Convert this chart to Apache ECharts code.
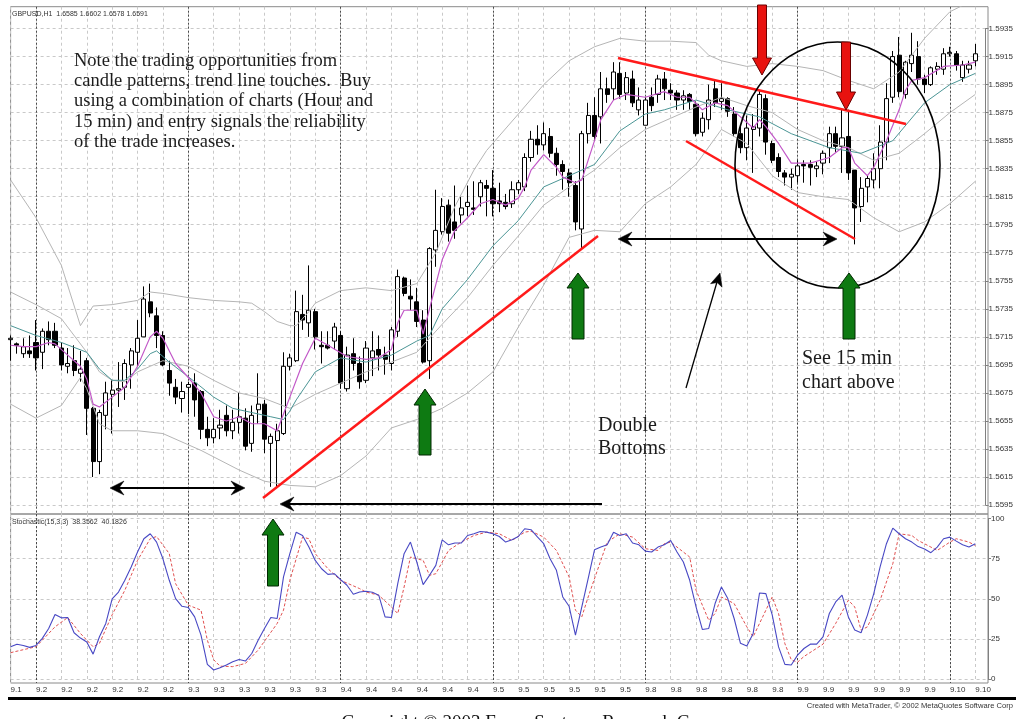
<!DOCTYPE html>
<html><head><meta charset="utf-8">
<script src="https://cdn.jsdelivr.net/npm/echarts@6/dist/echarts.min.js"></script>
<style>html,body{margin:0;padding:0;background:#fff;overflow:hidden}#c{width:1016px;height:719px}</style>
</head><body><div id="c"></div>
<script>
// ---------- categories (hourly bars, GBPUSD H1) ----------
const days = ['9.1','9.2','9.3','9.4','9.5','9.8','9.9','9.10'];
const slotsPerDay = [4,24,24,24,24,24,24,7];
const firstHour = 20;

// ---------- price axis ticks ----------
const priceTicks = [1.5595,1.5615,1.5635,1.5655,1.5675,1.5695,1.5715,1.5735,1.5755,1.5775,1.5795,1.5815,1.5835,1.5855,1.5875,1.5895,1.5915,1.5935];
const priceStep = 0.002;
const stochTicks = [0,25,50,75,100];

// ---------- candles ----------
const opens = [1.5713,1.5710,1.5703,1.5705,1.5711,1.5704,1.5719,1.5719,1.5707,1.5694,
1.5698,1.5689,1.5698,1.5664,1.5626,1.5659,1.5674,1.5677,1.5679,1.5695,
1.5704,1.5715,1.5740,1.5730,1.5716,1.5691,1.5679,1.5671,1.5679,1.5682,
1.5676,1.5649,1.5643,1.5650,1.5659,1.5648,1.5654,1.5657,1.5639,1.5663,
1.5667,1.5639,1.5641,1.5646,1.5694,1.5698,1.5731,1.5725,1.5733,1.5709,
1.5709,1.5712,1.5716,1.5678,1.5703,1.5696,1.5684,1.5700,1.5706,1.5702,
1.5696,1.5719,1.5757,1.5744,1.5740,1.5727,1.5698,1.5777,1.5790,1.5809,
1.5797,1.5802,1.5808,1.5807,1.5815,1.5823,1.5821,1.5812,1.5811,1.5810,
1.5820,1.5822,1.5843,1.5856,1.5852,1.5858,1.5846,1.5838,1.5832,1.5823,
1.5792,1.5860,1.5873,1.5872,1.5892,1.5892,1.5903,1.5889,1.5899,1.5877,
1.5866,1.5886,1.5888,1.5899,1.5891,1.5889,1.5884,1.5888,1.5881,1.5861,
1.5870,1.5892,1.5883,1.5885,1.5874,1.5860,1.5850,1.5863,1.5864,1.5885,
1.5853,1.5843,1.5832,1.5829,1.5830,1.5838,1.5838,1.5835,1.5839,1.5850,
1.5860,1.5851,1.5858,1.5834,1.5808,1.5822,1.5827,1.5835,1.5854,1.5886,
1.5916,1.5888,1.5910,1.5915,1.5899,1.5895,1.5906,1.5906,1.5917,1.5917,
1.5900,1.5906,1.5912];
const closes = [1.5714,1.5709,1.5708,1.5703,1.5700,1.5719,1.5713,1.5709,1.5695,1.5696,
1.5691,1.5692,1.5664,1.5626,1.5661,1.5675,1.5677,1.5678,1.5696,1.5705,
1.5714,1.5742,1.5732,1.5716,1.5695,1.5682,1.5672,1.5676,1.5681,1.5670,
1.5649,1.5643,1.5649,1.5652,1.5648,1.5654,1.5658,1.5637,1.5659,1.5667,
1.5642,1.5644,1.5648,1.5694,1.5700,1.5733,1.5727,1.5734,1.5715,1.5708,
1.5707,1.5722,1.5682,1.5702,1.5696,1.5683,1.5707,1.5705,1.5702,1.5699,
1.5720,1.5758,1.5746,1.5742,1.5726,1.5697,1.5778,1.5791,1.5808,1.5789,
1.5791,1.5807,1.5811,1.5806,1.5825,1.5821,1.5810,1.5810,1.5808,1.5820,
1.5825,1.5843,1.5856,1.5852,1.5860,1.5846,1.5838,1.5833,1.5825,1.5797,
1.5860,1.5873,1.5858,1.5892,1.5888,1.5904,1.5888,1.5900,1.5882,1.5884,
1.5884,1.5880,1.5899,1.5892,1.5889,1.5884,1.5887,1.5883,1.5860,1.5871,
1.5884,1.5882,1.5885,1.5876,1.5860,1.5850,1.5864,1.5865,1.5888,1.5854,
1.5841,1.5833,1.5829,1.5831,1.5837,1.5837,1.5836,1.5837,1.5846,1.5860,
1.5851,1.5857,1.5832,1.5807,1.5821,1.5828,1.5835,1.5854,1.5885,1.5915,
1.5890,1.5911,1.5916,1.5899,1.5895,1.5907,1.5908,1.5917,1.5918,1.5909,
1.5909,1.5909,1.5917];
const lows = [1.5698,1.5703,1.5700,1.5700,1.5691,1.5692,1.5709,1.5707,1.5691,1.5689,
1.5687,1.5683,1.5645,1.5615,1.5617,1.5649,1.5646,1.5665,1.5670,1.5678,
1.5694,1.5715,1.5729,1.5707,1.5694,1.5673,1.5667,1.5661,1.5660,1.5658,
1.5642,1.5637,1.5639,1.5642,1.5644,1.5642,1.5646,1.5634,1.5633,1.5653,
1.5632,1.5608,1.5607,1.5645,1.5691,1.5697,1.5720,1.5715,1.5706,1.5696,
1.5706,1.5706,1.5678,1.5676,1.5691,1.5678,1.5682,1.5687,1.5691,1.5688,
1.5691,1.5715,1.5744,1.5734,1.5722,1.5696,1.5685,1.5765,1.5788,1.5783,
1.5785,1.5796,1.5801,1.5802,1.5808,1.5801,1.5801,1.5804,1.5806,1.5807,
1.5817,1.5819,1.5840,1.5845,1.5848,1.5843,1.5830,1.5820,1.5815,1.5791,
1.5778,1.5853,1.5855,1.5853,1.5882,1.5884,1.5885,1.5884,1.5879,1.5873,
1.5866,1.5876,1.5882,1.5884,1.5884,1.5877,1.5877,1.5877,1.5858,1.5858,
1.5863,1.5879,1.5877,1.5872,1.5858,1.5846,1.5841,1.5832,1.5858,1.5845,
1.5839,1.5829,1.5823,1.5820,1.5825,1.5825,1.5823,1.5829,1.5831,1.5839,
1.5847,1.5832,1.5827,1.5781,1.5797,1.5811,1.5821,1.5821,1.5841,1.5882,
1.5886,1.5885,1.5904,1.5895,1.5889,1.5894,1.5902,1.5902,1.5915,1.5905,
1.5897,1.5903,1.5908];
const highs = [1.5716,1.5711,1.5714,1.5716,1.5727,1.5721,1.5726,1.5725,1.5711,1.5707,
1.5709,1.5705,1.5700,1.5665,1.5663,1.5683,1.5684,1.5697,1.5699,1.5707,
1.5727,1.5751,1.5753,1.5736,1.5719,1.5698,1.5685,1.5683,1.5683,1.5689,
1.5677,1.5658,1.5657,1.5663,1.5666,1.5663,1.5675,1.5664,1.5666,1.5689,
1.5670,1.5646,1.5653,1.5704,1.5703,1.5748,1.5745,1.5766,1.5735,1.5719,
1.5719,1.5725,1.5719,1.5708,1.5714,1.5701,1.5712,1.5719,1.5716,1.5708,
1.5722,1.5763,1.5758,1.5756,1.5750,1.5734,1.5779,1.5820,1.5814,1.5813,
1.5823,1.5815,1.5823,1.5826,1.5827,1.5827,1.5834,1.5825,1.5817,1.5826,
1.5827,1.5846,1.5862,1.5866,1.5868,1.5864,1.5850,1.5841,1.5835,1.5826,
1.5862,1.5882,1.5886,1.5904,1.5900,1.5911,1.5911,1.5904,1.5905,1.5893,
1.5886,1.5893,1.5902,1.5904,1.5896,1.5891,1.5891,1.5889,1.5883,1.5875,
1.5895,1.5898,1.5896,1.5886,1.5879,1.5865,1.5873,1.5874,1.5891,1.5888,
1.5855,1.5846,1.5834,1.5835,1.5841,1.5841,1.5841,1.5840,1.5848,1.5865,
1.5865,1.5877,1.5877,1.5834,1.5829,1.5830,1.5846,1.5866,1.5896,1.5919,
1.5929,1.5912,1.5932,1.5926,1.5902,1.5908,1.5911,1.5921,1.5922,1.5919,
1.5912,1.5912,1.5924];

// ---------- indicator lines, read at sample bars: [bar, price] ----------
const upperBand = [[0,1.5827],[4,1.5800],[8,1.5766],[11,1.5723],[13,1.5737],[16,1.5738],[20,1.5741],[22,1.5747],[24,1.5746],[28,1.5743],[32,1.5741],[36,1.5740],[38,1.5739],[40,1.5733],[42,1.5726],[44,1.5723],[45,1.5723],[47,1.5733],[48,1.5739],[52,1.5748],[56,1.5750],[60,1.5748],[64,1.5753],[67,1.5775],[70,1.5808],[73,1.5834],[75,1.5848],[80,1.5874],[84,1.5895],[88,1.5912],[92,1.5922],[96,1.5928],[100,1.5926],[104,1.5926],[108,1.5925],[110,1.5916],[112,1.5912],[116,1.5908],[120,1.5910],[124,1.5908],[128,1.5905],[132,1.5898],[136,1.5892],[140,1.5904],[144,1.5928],[148,1.5947],[152,1.5956]];
const middleBand = [[0,1.5747],[4,1.5738],[8,1.5728],[12,1.5704],[14,1.5690],[16,1.5684],[18,1.5683],[20,1.5690],[22,1.5694],[24,1.5698],[28,1.5694],[32,1.5684],[36,1.5675],[40,1.5671],[44,1.5664],[48,1.5674],[52,1.5682],[56,1.5690],[60,1.5697],[64,1.5704],[68,1.5724],[72,1.5743],[76,1.5766],[80,1.5787],[84,1.5809],[88,1.5822],[92,1.5834],[96,1.5850],[100,1.5863],[104,1.5871],[108,1.5879],[112,1.5886],[116,1.5880],[120,1.5875],[124,1.5863],[128,1.5855],[132,1.5850],[136,1.5841],[140,1.5846],[144,1.5860],[148,1.5875],[152,1.5888]];
const lowerBand = [[0,1.5667],[4,1.5657],[8,1.5666],[11,1.5686],[12,1.5678],[14,1.5653],[16,1.5648],[20,1.5648],[24,1.5646],[27,1.5640],[30,1.5634],[33,1.5627],[36,1.5620],[40,1.5612],[44,1.5609],[48,1.5608],[52,1.5616],[56,1.5630],[60,1.5650],[64,1.5656],[68,1.5664],[72,1.5675],[76,1.5690],[80,1.5722],[84,1.5752],[88,1.5786],[92,1.5791],[96,1.5790],[100,1.5810],[104,1.5822],[108,1.5838],[112,1.5863],[116,1.5853],[120,1.5830],[124,1.5818],[128,1.5815],[132,1.5813],[136,1.5800],[140,1.5790],[144,1.5797],[148,1.5810],[152,1.5826]];
const tealMA = [[0,1.5723],[4,1.5716],[8,1.5711],[12,1.5704],[14,1.5692],[16,1.5684],[18,1.5684],[20,1.5692],[22,1.5703],[23,1.5705],[25,1.5697],[27,1.5690],[29,1.5683],[32,1.5672],[35,1.5664],[38,1.5661],[41,1.5658],[43,1.5656],[44,1.5662],[45,1.5670],[48,1.5690],[52,1.5700],[56,1.5697],[60,1.5702],[64,1.5712],[66,1.5716],[68,1.5735],[72,1.5756],[76,1.5780],[80,1.5798],[84,1.5822],[88,1.5830],[92,1.5838],[96,1.5862],[100,1.5874],[103,1.5877],[108,1.5884],[113,1.5877],[118,1.5872],[123,1.5860],[129,1.5850],[134,1.5846],[139,1.5855],[144,1.5882],[148,1.5895],[152,1.5903]];
const fastMA = [[0,1.5709],[2,1.5708],[4,1.5708],[6,1.5711],[7,1.5710],[9,1.5702],[11,1.5694],[12,1.5685],[13,1.5667],[14,1.5665],[16,1.5672],[18,1.5679],[20,1.5694],[22,1.5715],[23,1.5719],[24,1.5714],[26,1.5696],[28,1.5686],[30,1.5675],[32,1.5658],[34,1.5655],[36,1.5658],[38,1.5653],[40,1.5653],[42,1.5648],[43,1.5660],[44,1.5672],[46,1.5696],[48,1.5714],[50,1.5709],[53,1.5701],[56,1.5699],[58,1.5700],[60,1.5706],[61,1.5725],[62,1.5734],[64,1.5734],[65,1.5717],[66,1.5735],[68,1.5770],[70,1.5791],[72,1.5800],[74,1.5810],[76,1.5813],[78,1.5809],[80,1.5814],[81,1.5822],[82,1.5834],[84,1.5845],[86,1.5836],[87,1.5829],[89,1.5825],[90,1.5827],[92,1.5855],[93,1.5870],[95,1.5884],[97,1.5888],[100,1.5886],[103,1.5890],[105,1.5886],[107,1.5886],[109,1.5877],[111,1.5882],[113,1.5880],[115,1.5872],[117,1.5864],[118,1.5870],[119,1.5865],[121,1.5853],[123,1.5839],[126,1.5839],[129,1.5843],[131,1.5850],[132,1.5850],[133,1.5839],[135,1.5830],[136,1.5836],[138,1.5855],[140,1.5877],[141,1.5891],[142,1.5898],[144,1.5900],[147,1.5908],[150,1.5909],[152,1.5911]];

// ---------- stochastic (15,3,3): [bar, value] ----------
const stochK = [[0,20.1],[1,21.7],[2,20.9],[3,19.7],[4,20.9],[5,25.3],[6,31.5],[7,40.2],[8,38.1],[9,38.3],[10,28.8],[11,25.5],[12,23.0],[13,15.5],[14,26.3],[15,34.6],[16,49.9],[17,54.2],[18,61.5],[19,69.8],[20,79.1],[21,87.4],[22,90.5],[23,85.3],[24,74.9],[25,61.5],[26,50.1],[27,45.3],[28,44.5],[29,38.7],[30,27.3],[31,9.1],[32,5.6],[33,7.0],[34,8.7],[35,10.8],[36,12.2],[37,11.2],[38,15.9],[39,24.2],[40,31.5],[41,38.3],[42,37.7],[43,63.6],[44,78.1],[45,91.5],[46,89.4],[47,82.2],[48,73.9],[49,68.7],[50,65.2],[51,65.6],[52,61.9],[53,58.4],[54,52.8],[55,54.2],[56,54.7],[57,54.0],[58,52.2],[59,38.7],[60,38.3],[61,59.4],[62,78.1],[63,85.3],[64,72.9],[65,58.8],[66,64.6],[67,70.8],[68,86.7],[69,83.6],[70,84.7],[71,84.7],[72,89.4],[73,90.5],[74,91.9],[75,91.5],[76,90.5],[77,88.8],[78,85.3],[79,86.7],[80,88.8],[81,93.6],[82,93.0],[83,88.5],[84,84.3],[85,74.9],[86,67.7],[87,51.1],[88,45.3],[89,27.3],[90,44.9],[91,62.5],[92,80.5],[93,82.2],[94,83.6],[95,91.5],[96,89.4],[97,90.5],[98,84.7],[99,83.6],[100,79.7],[101,79.1],[102,82.2],[103,83.6],[104,86.3],[105,79.1],[106,72.9],[107,61.5],[108,44.9],[109,30.8],[110,31.5],[111,47.0],[112,57.3],[113,50.1],[114,37.7],[115,22.2],[116,20.5],[117,28.4],[118,53.6],[119,53.2],[120,40.0],[121,20.0],[122,9.1],[123,8.7],[124,14.9],[125,19.0],[126,21.7],[127,21.7],[128,26.3],[129,40.8],[130,48.0],[131,52.2],[132,38.7],[133,30.5],[134,28.8],[135,39.8],[136,53.2],[137,69.8],[138,84.3],[139,94.0],[140,90.5],[141,87.4],[142,85.3],[143,82.5],[144,81.0],[145,78.7],[146,82.2],[147,87.4],[148,88.4],[149,85.9],[150,83.6],[151,82.2],[152,84.3]];
const stochD = [[0,16.4],[4,20.1],[5,24.2],[7,32.5],[9,38.3],[11,28.4],[13,20.1],[14,22.2],[16,40.0],[18,55.3],[20,73.9],[22,87.4],[23,88.8],[25,78.1],[26,59.4],[28,46.0],[30,42.9],[31,24.2],[32,12.0],[33,8.0],[35,7.7],[37,9.7],[39,18.0],[42,34.6],[43,42.9],[44,61.5],[46,88.4],[47,87.4],[48,78.1],[50,68.7],[52,61.5],[55,56.3],[56,54.2],[58,52.2],[60,44.9],[61,40.8],[62,57.3],[63,76.0],[65,73.9],[66,64.6],[67,65.6],[69,80.1],[71,85.3],[73,89.4],[75,91.5],[77,90.5],[79,86.3],[81,91.5],[82,92.1],[84,88.4],[86,80.1],[88,63.6],[89,42.9],[90,38.7],[91,51.1],[93,73.9],[94,85.3],[96,90.5],[98,88.4],[100,81.2],[102,80.1],[103,84.3],[104,85.3],[107,76.0],[108,55.3],[110,36.6],[111,40.8],[112,51.1],[114,47.0],[116,32.5],[117,26.3],[118,34.6],[120,51.1],[121,40.8],[122,22.0],[123,12.0],[124,10.5],[125,14.0],[128,21.7],[130,34.6],[132,49.1],[133,44.9],[134,30.4],[135,32.5],[137,49.1],[139,71.8],[140,90.5],[142,89.4],[143,86.3],[145,82.2],[146,80.1],[148,85.3],[149,87.4],[151,85.3],[152,83.2]];

// ---------- build option ----------
const categories = [];
days.forEach((d, k) => {
  for (let h = 0; h < slotsPerDay[k]; h++) {
    const hr = (k === 0 ? firstHour : 0) + h;
    categories.push(d + ' ' + String(hr).padStart(2, '0') + ':00');
  }
});
const candles = opens.map((o, i) => [o, closes[i], lows[i], highs[i]]);

const GL = 10.6, GW = 977.4;
const gridCol = '#c9c9c9', sepCol = '#4a4a4a', frameCol = '#8a8a8a';
const smallFont = 'Liberation Sans';
const isDayStart = (i, v) => / 00:00$/.test(v);
const every4 = (i) => i % 4 === 0;

function catAxis(gridIndex, extra) {
  return Object.assign({
    type: 'category', gridIndex, data: categories, boundaryGap: false,
    axisLine: { show: false }, axisTick: { show: false }, axisLabel: { show: false },
    splitLine: { show: false }
  }, extra);
}

// annotation helpers (pixel space)
function blockArrow(cx, tip, tail, headH, headHalf, shaftHalf, fill, stroke) {
  const d = tail > tip ? 1 : -1;
  const hb = tip + d * headH;
  return { type: 'polygon', z: 100, shape: { points: [[cx, tip], [cx + headHalf, hb], [cx + shaftHalf, hb], [cx + shaftHalf, tail], [cx - shaftHalf, tail], [cx - shaftHalf, hb], [cx - headHalf, hb]] },
    style: { fill, stroke, lineWidth: 1 } };
}
function head(x1, y1, x2, y2, len, hw, notch, color) {
  const dx = x2 - x1, dy = y2 - y1, n = Math.hypot(dx, dy), ux = dx / n, uy = dy / n, px = -uy, py = ux;
  return { type: 'polygon', z: 101, shape: { points: [[x2, y2], [x2 - ux * len + px * hw, y2 - uy * len + py * hw], [x2 - ux * (len - notch), y2 - uy * (len - notch)], [x2 - ux * len - px * hw, y2 - uy * len - py * hw]] },
    style: { fill: color, stroke: color, lineWidth: 0.5 } };
}
function seg(x1, y1, x2, y2, color, w) {
  return { type: 'line', z: 100, shape: { x1, y1, x2, y2 }, style: { stroke: color, lineWidth: w } };
}
function txt(x, y, s, font, align, fill) {
  return { type: 'text', z: 102, x, y, style: { text: s, font, fill: fill || '#1c1c1c', align: align || 'left', verticalAlign: 'middle' } };
}
const serif18 = '18.5px "Liberation Serif"';
const serif20 = '20px "Liberation Serif"';
const red = '#ff1a1a', green = '#0e7a12';

const graphics = [
  txt(12, 14, 'GBPUSD,H1  1.6585 1.6602 1.6578 1.6591', '7px ' + smallFont, 'left', '#333'),
  txt(12, 522.5, 'Stochastic(15,3,3)  38.3562  40.1826', '7px ' + smallFont, 'left', '#333'),
  txt(74, 61, 'Note the trading opportunities from', serif18),
  txt(74, 81.3, 'candle patterns, trend line touches.  Buy', serif18),
  txt(74, 101.5, 'using a combination of charts (Hour and', serif18),
  txt(74, 121.8, '15 min) and entry signals the reliability', serif18),
  txt(74, 142, 'of the trade increases.', serif18),
  txt(598, 425.5, 'Double', serif20),
  txt(598, 449, 'Bottoms', serif20),
  txt(802, 359, 'See 15 min', serif20),
  txt(802, 382.5, 'chart above', serif20),
  // trend lines
  seg(263, 498, 598, 236, red, 2.5),
  seg(618, 58, 906, 124, red, 2.5),
  seg(686, 141, 855, 239, red, 2.5),
  // black arrows
  seg(114, 488, 241, 488, '#000', 2), head(241, 488, 110, 488, 14, 7, 5, '#000'), head(114, 488, 245, 488, 14, 7, 5, '#000'),
  seg(622, 239, 833, 239, '#000', 2), head(833, 239, 618, 239, 14, 7, 5, '#000'), head(622, 239, 837, 239, 14, 7, 5, '#000'),
  seg(602, 504, 284, 504, '#000', 2), head(602, 504, 280, 504, 14, 7, 5, '#000'),
  seg(686, 388, 717, 282, '#000', 1.3), head(686, 388, 720, 273, 13, 6, 3, '#000'),
  { type: 'ellipse', z: 100, shape: { cx: 837.5, cy: 165, rx: 102.5, ry: 123 }, style: { fill: null, stroke: '#000', lineWidth: 1.6 } },
  // block arrows
  blockArrow(762, 75, 5, 17, 9.5, 4.5, '#e8120f', '#6a0000'),
  blockArrow(846, 110, 42, 18, 9.5, 4.5, '#e8120f', '#6a0000'),
  blockArrow(273, 519, 586, 16, 11, 5.5, green, '#002800'),
  blockArrow(425, 389, 455, 16, 11, 6, green, '#002800'),
  blockArrow(578, 273, 339, 15, 11, 6, green, '#002800'),
  blockArrow(849, 273, 339, 15, 11, 6, green, '#002800'),
  // footer
  { type: 'rect', z: 100, shape: { x: 8, y: 697, width: 1008, height: 3 }, style: { fill: '#000' } },
  txt(1013, 706, 'Created with MetaTrader, \u00a9 2002 MetaQuotes Software Corp', '7.6px ' + smallFont, 'right', '#333'),
  txt(546, 723, 'Copyright \u00a9 2003 Forex Systems Research Company', '19px "Liberation Serif"', 'center', '#111')
];

const option = {
  animation: false,
  backgroundColor: '#ffffff',
  grid: [
    { left: GL, top: 6.7, width: GW, height: 507.3, show: true, borderColor: frameCol, borderWidth: 1, backgroundColor: 'transparent' },
    { left: GL, top: 28.5, width: GW, height: 476.5 },
    { left: GL, top: 514, width: GW, height: 169, show: true, borderColor: frameCol, borderWidth: 1, backgroundColor: 'transparent' },
    { left: GL, top: 518.5, width: GW, height: 160.5 }
  ],
  xAxis: [
    catAxis(0, { splitLine: { show: true, interval: every4, lineStyle: { color: gridCol, type: [3, 3], width: 1 } } }),
    catAxis(0, { splitLine: { show: true, interval: isDayStart, lineStyle: { color: sepCol, type: [2, 2], width: 1 } } }),
    catAxis(1, {}),
    catAxis(2, {
      splitLine: { show: true, interval: every4, lineStyle: { color: gridCol, type: [3, 3], width: 1 } },
      axisLabel: { show: true, interval: every4, formatter: v => v.split(' ')[0], align: 'left', fontSize: 8, fontFamily: smallFont, color: '#333', margin: 3 }
    }),
    catAxis(2, { splitLine: { show: true, interval: isDayStart, lineStyle: { color: sepCol, type: [2, 2], width: 1 } } }),
    catAxis(3, {})
  ],
  yAxis: [
    { type: 'value', gridIndex: 0, min: 1.55886, max: 1.59506, show: false },
    { type: 'value', gridIndex: 1, position: 'right', min: priceTicks[0], max: priceTicks[priceTicks.length - 1], interval: priceStep,
      axisLine: { show: true, lineStyle: { color: '#808080' } }, axisTick: { show: true, length: 3, lineStyle: { color: '#808080' } },
      axisLabel: { fontSize: 8, fontFamily: smallFont, color: '#333', margin: 3, formatter: v => v.toFixed(4) },
      splitLine: { show: true, lineStyle: { color: gridCol, type: [3, 3], width: 1 } } },
    { type: 'value', gridIndex: 2, min: -2.5, max: 102.5, show: false },
    { type: 'value', gridIndex: 3, position: 'right', min: stochTicks[0], max: stochTicks[stochTicks.length - 1], interval: stochTicks[1] - stochTicks[0],
      axisLine: { show: true, lineStyle: { color: '#808080' } }, axisTick: { show: true, length: 3, lineStyle: { color: '#808080' } },
      axisLabel: { fontSize: 8, fontFamily: smallFont, color: '#333', margin: 3 },
      splitLine: { show: true, lineStyle: { color: gridCol, type: [3, 3], width: 1 } } }
  ],
  series: [
    { type: 'candlestick', name: 'GBPUSD', xAxisIndex: 0, yAxisIndex: 0, data: candles, barWidth: 4.6, z: 3,
      itemStyle: { color: '#ffffff', color0: '#000000', borderColor: '#000000', borderColor0: '#000000', borderColorDoji: '#000000', borderWidth: 1 } },
    { type: 'line', name: 'upper', xAxisIndex: 0, yAxisIndex: 0, data: upperBand, symbol: 'none', z: 4, silent: true, lineStyle: { color: '#b5b5b5', width: 1 } },
    { type: 'line', name: 'middle', xAxisIndex: 0, yAxisIndex: 0, data: middleBand, symbol: 'none', z: 4, silent: true, lineStyle: { color: '#b5b5b5', width: 1 } },
    { type: 'line', name: 'lower', xAxisIndex: 0, yAxisIndex: 0, data: lowerBand, symbol: 'none', z: 4, silent: true, lineStyle: { color: '#b5b5b5', width: 1 } },
    { type: 'line', name: 'teal', xAxisIndex: 0, yAxisIndex: 0, data: tealMA, symbol: 'none', z: 5, silent: true, lineStyle: { color: '#4b9595', width: 1 } },
    { type: 'line', name: 'fast', xAxisIndex: 0, yAxisIndex: 0, data: fastMA, symbol: 'none', z: 6, silent: true, lineStyle: { color: '#c258c8', width: 1.2 } },
    { type: 'line', name: '%K', xAxisIndex: 5, yAxisIndex: 3, data: stochK, symbol: 'none', z: 5, silent: true, lineStyle: { color: '#4848c4', width: 1.1 } },
    { type: 'line', name: '%D', xAxisIndex: 5, yAxisIndex: 3, data: stochD, symbol: 'none', z: 4, silent: true, lineStyle: { color: '#e05050', width: 1, type: [3, 2] } }
  ],
  graphic: { elements: graphics }
};

const chart = echarts.init(document.getElementById('c'), null, { renderer: 'canvas' });
chart.setOption(option);
</script>
</body></html>
